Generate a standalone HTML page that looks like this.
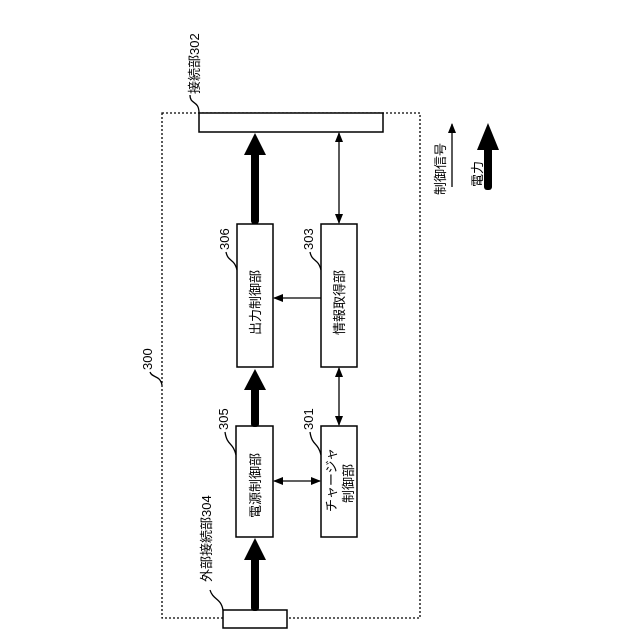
<!DOCTYPE html>
<html><head><meta charset="utf-8"><style>body{margin:0;background:#fff}svg{display:block}</style></head><body>
<svg width="640" height="640" viewBox="0 0 640 640" xmlns="http://www.w3.org/2000/svg" font-family="Liberation Sans, Noto Sans CJK JP, sans-serif" font-size="13" fill="#000">
<defs>
<marker id="a" markerWidth="10" markerHeight="10" refX="9" refY="5" orient="auto" markerUnits="userSpaceOnUse"><path d="M0,1 L10,5 L0,9 z"/></marker>
<marker id="b" markerWidth="10" markerHeight="10" refX="1" refY="5" orient="auto" markerUnits="userSpaceOnUse"><path d="M10,1 L0,5 L10,9 z"/></marker>
</defs>
<rect x="162" y="113" width="258" height="505" fill="none" stroke="#000" stroke-width="1.3" stroke-dasharray="2,2"/>
<rect x="199" y="113" width="184" height="19" fill="#fff" stroke="#000" stroke-width="1.5"/>
<rect x="237" y="224" width="36" height="143" fill="#fff" stroke="#000" stroke-width="1.5"/>
<rect x="321" y="224" width="36" height="143" fill="#fff" stroke="#000" stroke-width="1.5"/>
<rect x="236" y="426" width="37" height="111" fill="#fff" stroke="#000" stroke-width="1.5"/>
<rect x="321" y="426" width="36" height="111" fill="#fff" stroke="#000" stroke-width="1.5"/>
<rect x="223" y="610" width="64" height="18" fill="#fff" stroke="#000" stroke-width="1.5"/>
<!-- thick arrows -->
<g fill="#000">
<rect x="251" y="150" width="8" height="74" rx="3"/><path d="M244,155 L255,133 L266,155 z"/>
<rect x="251" y="385" width="8" height="42" rx="3"/><path d="M244,390 L255,369 L266,390 z"/>
<rect x="251" y="555" width="8" height="56" rx="3"/><path d="M244,560 L255,538 L266,560 z"/>
<rect x="484" y="145" width="8" height="45" rx="3"/><path d="M477,150 L488,123 L499,150 z"/>
</g>
<g stroke="#000" stroke-width="1.3" fill="none">
<line x1="339" y1="133" x2="339" y2="223" marker-start="url(#b)" marker-end="url(#a)"/>
<line x1="339" y1="368" x2="339" y2="425" marker-start="url(#b)" marker-end="url(#a)"/>
<line x1="321" y1="298" x2="274" y2="298" marker-end="url(#a)"/>
<line x1="274" y1="481" x2="320" y2="481" marker-start="url(#b)" marker-end="url(#a)"/>
<line x1="452" y1="187" x2="452" y2="124" marker-end="url(#a)"/>
<path d="M199,113 C199,100 190,105 190,95"/>
<path d="M162,385 C160,375 152,378 150,372"/>
<path d="M237,270 C234,258 228,262 226,252"/>
<path d="M321,270 C318,258 312,262 310,252"/>
<path d="M236,455 C233,442 227,446 225,432"/>
<path d="M321,455 C318,442 312,446 310,432"/>
<path d="M223,610 C221,598 213,600 210,590"/>
</g>
<g font-size="13">
<text transform="translate(199,94) rotate(-90)">接続部302</text>
<text transform="translate(152,370) rotate(-90)">300</text>
<text transform="translate(229,250) rotate(-90)">306</text>
<text transform="translate(313,250) rotate(-90)">303</text>
<text transform="translate(228,430) rotate(-90)">305</text>
<text transform="translate(313,430) rotate(-90)">301</text>
<text transform="translate(211,582) rotate(-90)">外部接続部304</text>
<text transform="translate(260,335) rotate(-90)">出力制御部</text>
<text transform="translate(344,335) rotate(-90)">情報取得部</text>
<text transform="translate(260,518) rotate(-90)">電源制御部</text>
<text transform="translate(336,512) rotate(-90)">チャージャ</text>
<text transform="translate(353,503) rotate(-90)">制御部</text>
<text transform="translate(445,195) rotate(-90)">制御信号</text>
<text transform="translate(482,187) rotate(-90)">電力</text>
</g>
</svg>
</body></html>
